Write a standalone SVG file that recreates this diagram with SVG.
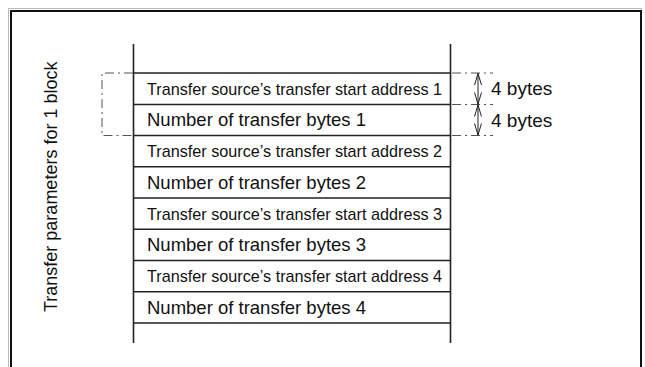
<svg xmlns="http://www.w3.org/2000/svg" width="645" height="367" viewBox="0 0 645 367">
<style>
.t{font-family:"Liberation Sans",Arial,sans-serif;fill:#111}
.a{font-size:16.2px}
.n{font-size:18.5px}
.v{font-size:18px}
.b{font-size:19px}
.ln{stroke:#222;stroke-width:1.6;fill:none}
.dd{stroke:#555;stroke-width:1;fill:none;stroke-dasharray:9 4 2 4}
.ar{stroke:#222;stroke-width:1;fill:none}
</style>
<rect width="645" height="367" fill="#fff"/>
<rect x="8.5" y="8.5" width="633" height="400" fill="none" stroke="#bbb" stroke-width="1"/>
<rect x="11" y="11" width="630" height="400" fill="none" stroke="#111" stroke-width="2"/>
<g id="table">
<line class="ln" x1="133.5" y1="44" x2="133.5" y2="343"/>
<line class="ln" x1="450.5" y1="44" x2="450.5" y2="343"/>
<g class="ln">
<line x1="133" y1="73" x2="451" y2="73"/>
<line x1="133" y1="104.5" x2="451" y2="104.5"/>
<line x1="133" y1="135.5" x2="451" y2="135.5"/>
<line x1="133" y1="166.75" x2="451" y2="166.75"/>
<line x1="133" y1="198" x2="451" y2="198"/>
<line x1="133" y1="229.25" x2="451" y2="229.25"/>
<line x1="133" y1="260.5" x2="451" y2="260.5"/>
<line x1="133" y1="291.75" x2="451" y2="291.75"/>
<line x1="133" y1="323" x2="451" y2="323"/>
</g>
</g>
<g id="row1"><text class="t a" x="147" y="94.5">Transfer source’s transfer start address 1</text></g>
<g id="row2"><text class="t n" x="147" y="126">Number of transfer bytes 1</text></g>
<g id="row3"><text class="t a" x="147" y="157">Transfer source’s transfer start address 2</text></g>
<g id="row4"><text class="t n" x="147" y="188.5">Number of transfer bytes 2</text></g>
<g id="row5"><text class="t a" x="147" y="219.5">Transfer source’s transfer start address 3</text></g>
<g id="row6"><text class="t n" x="147" y="251">Number of transfer bytes 3</text></g>
<g id="row7"><text class="t a" x="147" y="282">Transfer source’s transfer start address 4</text></g>
<g id="row8"><text class="t n" x="147" y="313.5">Number of transfer bytes 4</text></g>
<g id="block-label">
<path class="dd" d="M133 73 H102 V135.5 H133"/>
<text class="t v" transform="translate(57,312) rotate(-90)" x="0" y="0">Transfer parameters for 1 block</text>
</g>
<g id="size-marks">
<path class="dd" d="M452 73 H493 M452 104.5 H493 M452 135.5 H493"/>
<line class="ar" x1="478" y1="73" x2="478" y2="135.5"/>
<path class="ar" d="M474.5 85 L478 73.5 L481.5 85 M474.5 92.5 L478 104 L481.5 92.5 M474.5 116.5 L478 105 L481.5 116.5 M474.5 123.5 L478 135 L481.5 123.5"/>
<text class="t b" x="491" y="95">4 bytes</text>
<text class="t b" x="491" y="127">4 bytes</text>
</g>
</svg>
